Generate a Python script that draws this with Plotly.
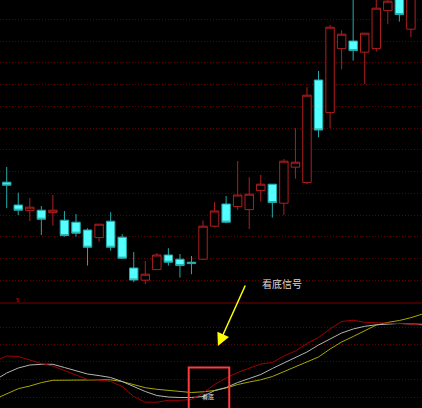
import plotly.graph_objects as go

# ---- candle data (price units) ----
idx = list(range(36))
open_ = [10.89, 9.75, 9.47, 9.49, 9.37, 8.99, 8.89, 8.50, 8.12, 8.94, 8.14, 6.60,
         5.99, 6.52, 7.25, 7.04, 6.89, 7.04, 8.69, 9.80, 9.67, 9.52, 10.47, 10.79,
         9.84, 11.64, 10.87, 16.00, 14.37, 17.57, 17.95, 17.39, 17.57, 19.47, 20.60, 18.54]
high = [11.65, 10.37, 10.10, 9.70, 10.25, 9.45, 9.30, 8.59, 8.79, 9.39, 8.29, 7.40,
        6.95, 7.35, 7.59, 7.30, 7.20, 8.97, 9.89, 10.20, 11.95, 11.14, 11.25, 10.80,
        12.05, 13.59, 15.64, 16.45, 18.75, 18.49, 20.50, 18.34, 20.30, 20.40, 20.90, 21.20]
low = [9.59, 9.25, 8.95, 8.25, 8.72, 8.17, 8.17, 6.72, 7.92, 7.47, 7.04, 5.89,
       5.79, 6.50, 6.72, 6.12, 6.29, 7.00, 8.64, 8.84, 9.50, 8.55, 9.92, 9.12,
       9.25, 11.07, 10.79, 13.14, 13.60, 16.54, 16.97, 15.79, 17.42, 18.79, 18.92, 18.14]
close = [10.74, 9.49, 9.64, 9.04, 9.49, 8.22, 8.34, 7.64, 8.79, 7.64, 7.09, 6.00,
         6.29, 7.25, 6.89, 6.72, 6.82, 8.69, 9.45, 8.89, 10.25, 10.29, 10.79, 9.87,
         11.94, 11.89, 15.24, 13.50, 18.64, 18.29, 17.47, 18.34, 19.59, 19.94, 19.27, 20.80]

# ---- indicator data (lower panel) ----
ind_x = list(range(-1, 37))
line_red = [47, 52, 51.5, 48, 44.5, 42, 37.3, 32.5, 28.5, 28, 26.5, 21.5, 11.5, 5.8,
            5.8, 7.7, 7.7, 8.5, 15, 23.5, 30, 35.5, 40, 44, 45.5, 52, 57, 64.5,
            70.5, 79, 86.5, 87.8, 85.7, 85.3, 85.1, 84.6, 84, 82.6]
line_white = [28, 35, 40, 43, 43.7, 43.7, 40.5, 37.5, 34, 32.4, 30.5, 26.5, 21.5, 16.5,
              12.5, 11, 10.5, 10.5, 11.5, 17.4, 20.5, 25.5, 29.5, 33.5, 39.5, 45, 50.5, 56,
              63, 69, 75, 79, 81.7, 83.2, 84.2, 84.6, 84, 83.7]
line_yellow = [9, 14, 19.3, 22, 25.4, 27.7, 27.9, 28, 28.3, 28.7, 28.2, 26.4, 23, 20.3,
               18.7, 17.5, 16.4, 15.5, 16.2, 17.5, 20, 23.5, 26, 28.2, 31.5, 36.5, 41, 46,
               51, 59, 66, 71.5, 77.5, 83, 85.6, 87.5, 90.3, 94]

signal_label = "看底信号"
box_label = "看底"

split = 105 / 408

fig = go.Figure()
fig.add_trace(go.Candlestick(
    x=idx, open=open_, high=high, low=low, close=close,
    increasing=dict(line=dict(color='#b01e1e', width=1), fillcolor='#000000'),
    decreasing=dict(line=dict(color='#27a9a9', width=1), fillcolor='#54ffff'),
    whiskerwidth=0, xaxis='x', yaxis='y', showlegend=False, hoverinfo='skip'))

for vals, col in [(line_yellow, '#a8a800'), (line_white, '#b4b4b4'), (line_red, '#a00000')]:
    fig.add_trace(go.Scatter(x=ind_x, y=vals, mode='lines',
                             line=dict(color=col, width=1),
                             xaxis='x', yaxis='y2', showlegend=False, hoverinfo='skip'))

grid_col = '#600000'
fig.update_layout(
    width=422, height=408, margin=dict(l=0, r=0, t=0, b=0),
    paper_bgcolor='#000000', plot_bgcolor='#000000', showlegend=False,
    boxgap=0.27, boxgroupgap=0,
    xaxis=dict(range=[-0.58, 35.96], showgrid=False, zeroline=False, showticklabels=False,
               ticks='', rangeslider=dict(visible=False), anchor='y', showline=False),
    yaxis=dict(domain=[split, 1], range=[4.85, 20], tickmode='linear', tick0=5.985, dtick=1.0875,
               showgrid=True, gridcolor=grid_col, griddash='1px,2px', gridwidth=1,
               zeroline=False, showticklabels=False, ticks=''),
    yaxis2=dict(domain=[0, split], range=[0, 105], tickvals=[10.7, 28.7, 46.3, 63.7, 80.3],
                showgrid=True, gridcolor=grid_col, griddash='1px,2px', gridwidth=1,
                zeroline=False, showticklabels=False, ticks='', anchor='x'),
    shapes=[
        dict(type='line', xref='paper', yref='paper', x0=0, x1=1, y0=split, y1=split,
             line=dict(color='#7a0000', width=1)),
        dict(type='rect', xref='x', yref='y2', x0=15.76, x1=19.27, y0=-5, y1=40.5,
             line=dict(color='#ff3a3a', width=2), fillcolor='rgba(0,0,0,0)'),
    ],
    annotations=[
        dict(text=signal_label, xref='x', yref='y', x=23.84, y=5.85, showarrow=False,
             font=dict(family='Noto Sans CJK SC', size=10, color='#d8d8d8')),
        dict(text='', xref='x', yref='y2', x=18.29, y=62, ax=28, ay=-62,
             showarrow=True, arrowcolor='#ffff00', arrowwidth=1.5, arrowhead=2, arrowsize=1.7,
             standoff=0),
        dict(text=box_label, xref='x', yref='y2', x=17.43, y=12, showarrow=False,
             font=dict(family='Noto Sans CJK SC', size=6, color='#e0e0e0')),
        dict(text='5', xref='x', yref='y', x=0.95, y=5.0, showarrow=False,
             font=dict(family='DejaVu Sans', size=5, color='#ff0000')),
    ],
)

fig.write_html("out.html", config={'displayModeBar': False},
               post_script="document.body.style.margin='0';document.body.style.background='#000';")
